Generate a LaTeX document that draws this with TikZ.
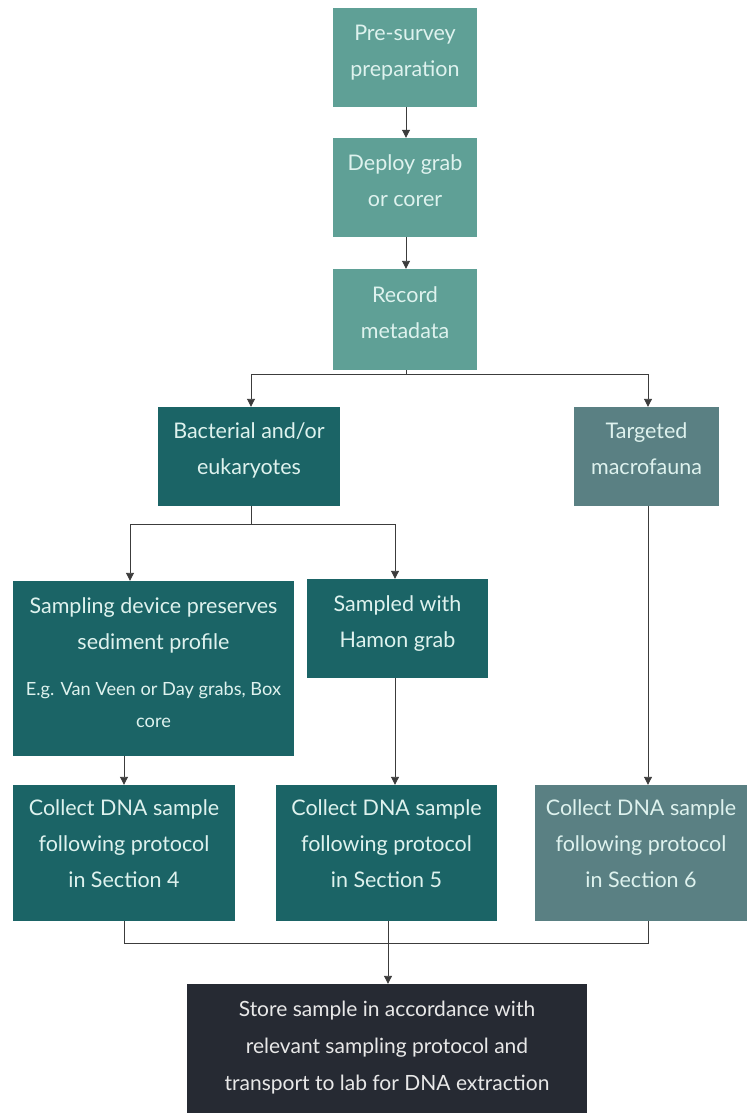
\documentclass[tikz,border=0pt]{standalone}
\usepackage{fontspec}
\setmainfont{Lato}
\usetikzlibrary{arrows.meta}
\definecolor{tealL}{RGB}{95,160,150}
\definecolor{tealD}{RGB}{27,100,102}
\definecolor{tealG}{RGB}{90,128,131}
\definecolor{navy}{RGB}{38,42,51}
\definecolor{txtL}{RGB}{222,242,238}
\definecolor{lineC}{RGB}{60,60,60}
\newcommand{\smallfs}{\fontsize{18.2}{32}\selectfont}
\begin{document}
\begin{tikzpicture}[x=1pt,y=-1pt,
  box/.style={rectangle, draw=none, inner sep=0pt, align=center, text=txtL,
    font=\fontsize{21.5}{36}\selectfont},
  conn/.style={draw=lineC, line width=0.9pt},
  arr/.style={conn, -{Triangle[length=8pt,width=8pt]}},
]
\useasboundingbox (0,0) rectangle (747,1113);
% top chain
\node[box, fill=tealL, minimum width=144pt, minimum height=99pt] (b1) at (405,57.5) {Pre-survey\\preparation\\[-22pt]};
\node[box, fill=tealL, minimum width=144pt, minimum height=99pt] (b2) at (405,187.5) {Deploy grab\\or corer\\[-22pt]};
\node[box, fill=tealL, minimum width=144pt, minimum height=101pt] (b3) at (405,319.5) {Record\\metadata\\[-22pt]};
% second level
\node[box, fill=tealD, minimum width=182pt, minimum height=99pt] (bact) at (249,456.5) {Bacterial and/or\\eukaryotes\\[-20pt]};
\node[box, fill=tealG, minimum width=145pt, minimum height=99pt] (targ) at (646.5,456.5) {Targeted\\macrofauna\\[-20pt]};
% third level
\node[box, fill=tealD, minimum width=281pt, minimum height=175pt] (samp) at (153.5,668.5)
  {Sampling device preserves\\sediment profile\\[10pt]{\smallfs E.g. Van Veen or Day grabs, Box}\\[-4pt]{\smallfs core}\\[-24pt]};
\node[box, fill=tealD, minimum width=181pt, minimum height=99pt] (hamon) at (397.5,628.5) {Sampled with\\Hamon grab\\[-22pt]};
% collect boxes
\node[box, fill=tealD, minimum width=222pt, minimum height=136pt] (c4) at (124,853) {Collect DNA sample\\following protocol\\in Section 4\\[-18pt]};
\node[box, fill=tealD, minimum width=221pt, minimum height=136pt] (c5) at (386.5,853) {Collect DNA sample\\following protocol\\in Section 5\\[-18pt]};
\node[box, fill=tealG, minimum width=212pt, minimum height=136pt] (c6) at (641,853) {Collect DNA sample\\following protocol\\in Section 6\\[-18pt]};
% store
\node[box, fill=navy, text={rgb,255:red,232;green,232;blue,232}, minimum width=400pt, minimum height=129pt,
  font=\fontsize{21}{37}\selectfont] (store) at (387,1048.5)
  {Store sample in accordance with\\relevant sampling protocol and\\transport to lab for DNA extraction\\[-31pt]};
% junctions
\coordinate (j1) at (406,374);
\coordinate (j2) at (251,524);
\coordinate (a1) at (130,524);
\coordinate (j3) at (388,943);
\coordinate (l4) at (124,943);
\coordinate (l6) at (648,943);
% connectors
\draw[arr] (b1.south -| j1) -- (b2.north -| j1);
\draw[arr] (b2.south -| j1) -- (b3.north -| j1);
\draw[conn] (b3.south -| j1) -- (j1);
\draw[arr] (j1) -| (j2 |- bact.north);
\draw[arr] (j1) -| (l6 |- targ.north);
\draw[conn] (j2 |- bact.south) -- (j2);
\draw[arr] (j2) -- (a1) -- (a1 |- samp.north);
\draw[arr] (j2) -| ([xshift=-2.5pt]hamon.north);
\draw[arr] (c4.north |- samp.south) -- (c4.north);
\draw[arr] ([xshift=-2.5pt]hamon.south) -- ([xshift=-2.5pt]hamon.south |- c5.north);
\draw[arr] (l6 |- targ.south) -- (l6 |- c6.north);
\draw[conn] (c4.south) -- (l4) -- (l6) -- (l6 |- c6.south);
\draw[conn] (j3 |- c5.south) -- (j3);
\draw[arr] (j3) -- (j3 |- store.north);
\end{tikzpicture}
\end{document}
